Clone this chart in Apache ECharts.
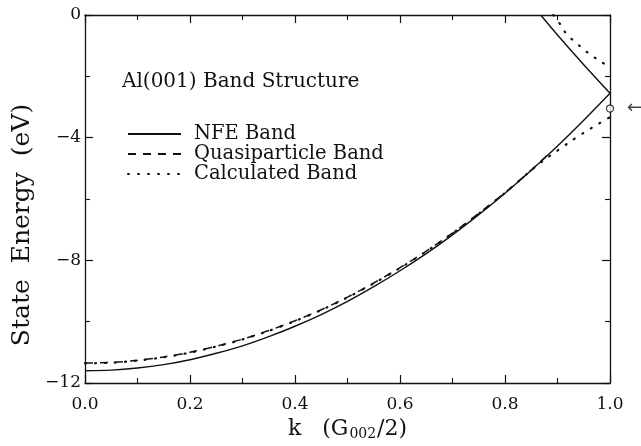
<!DOCTYPE html>
<html>
<head>
<meta charset="utf-8">
<script src="https://cdn.jsdelivr.net/npm/echarts@6/dist/echarts.min.js"></script>
<style>
  html, body { margin: 0; padding: 0; background: #fff; }
  #chart { width: 641px; height: 446px; }
</style>
</head>
<body>
<div id="chart"></div>
<script>
// k in units of G002/2, energies in eV
const kGrid = [0, 0.05, 0.1, 0.15, 0.2, 0.25, 0.3, 0.35, 0.4, 0.45, 0.5, 0.55, 0.6, 0.65, 0.7, 0.75, 0.8, 0.85, 0.9, 0.95, 1.0]
const nfeLower = [-11.60, -11.58, -11.51, -11.40, -11.24, -11.03, -10.79, -10.49, -10.15, -9.77, -9.34, -8.86, -8.34, -7.78, -7.17, -6.51, -5.81, -5.06, -4.27, -3.43, -2.55]

const nfeUpperK = [0.868, 0.9, 0.95, 1.0]
const nfeUpperE = [0, -0.65, -1.62, -2.55]

const qpK = [0, 0.05, 0.1, 0.15, 0.2, 0.25, 0.3, 0.35, 0.4, 0.45, 0.5, 0.55, 0.6, 0.65, 0.7, 0.75, 0.8, 0.85, 0.88]
const qpE = [-11.35, -11.33, -11.26, -11.15, -11.00, -10.80, -10.57, -10.29, -9.97, -9.61, -9.20, -8.74, -8.24, -7.70, -7.11, -6.47, -5.79, -5.06, -4.58]

const calcLowerK = [0, 0.05, 0.1, 0.15, 0.2, 0.25, 0.3, 0.35, 0.4, 0.45, 0.5, 0.55, 0.6, 0.65, 0.7, 0.75, 0.8, 0.85, 0.875, 0.9, 0.925, 0.95, 0.975, 1.0]
const calcLowerE = [-11.36, -11.34, -11.27, -11.16, -11.01, -10.81, -10.58, -10.30, -9.98, -9.62, -9.21, -8.75, -8.25, -7.71, -7.12, -6.48, -5.80, -5.06, -4.72, -4.42, -4.12, -3.84, -3.58, -3.33]

const calcUpperK = [0.892, 0.905, 0.914, 0.928, 0.943, 0.957, 0.971, 0.985, 1.0]
const calcUpperE = [0, -0.3, -0.55, -0.8, -1.02, -1.22, -1.39, -1.55, -1.68]

const markK = [1.0]
const markE = [-3.05]

const xTicks = [0, 1, 0.2]
const yTicks = [-12, 0, 4]
const legendNames = ["NFE Band", "Quasiparticle Band", "Calculated Band"]

const zip = (xs, ys) => xs.map((x, i) => [x, ys[i]])

const FONT = "DejaVu Serif"
const INK = "#111"

const axisBase = {
  axisLine: { onZero: false, lineStyle: { color: INK, width: 1.3 } },
  axisTick: { inside: true, length: 8, lineStyle: { color: INK, width: 1.2 } },
  minorTick: { show: true, splitNumber: 2, length: 5, lineStyle: { color: INK, width: 1.1 } },
  splitLine: { show: false },
  minorSplitLine: { show: false }
}

const dotted = [1, 9]
const dashed = [8, 7]

const myChart = echarts.init(document.getElementById("chart"), null, { renderer: "canvas" })

const option = {
  backgroundColor: "#fff",
  animation: false,
  title: {
    text: "Al(001) Band Structure",
    left: 117,
    top: 67,
    textStyle: { fontFamily: FONT, fontSize: 20, fontWeight: "normal", color: INK }
  },
  legend: {
    data: legendNames,
    orient: "vertical",
    left: 127,
    top: 124,
    padding: 0,
    itemWidth: 53,
    itemHeight: 14,
    itemGap: 0,
    itemStyle: { color: "rgba(0,0,0,0)", borderWidth: 0 },
    textStyle: { fontFamily: FONT, fontSize: 19.5, color: INK, lineHeight: 18, padding: [0, 0, 0, 8] }
  },
  grid: { left: 85, right: 31, top: 15, bottom: 62, containLabel: false },
  xAxis: [
    Object.assign({}, axisBase, {
      type: "value",
      min: xTicks[0],
      max: xTicks[1],
      interval: xTicks[2],
      name: "{k|k   (G}{sub|002}{k|/2)}",
      nameLocation: "middle",
      nameGap: 35,
      nameTextStyle: {
        rich: {
          k: { fontFamily: FONT, fontSize: 22, color: INK },
          sub: { fontFamily: FONT, fontSize: 14, color: INK, verticalAlign: "bottom", padding: [9, 1, 0, 1] }
        }
      },
      axisLabel: {
        margin: 13,
        fontFamily: FONT,
        fontSize: 17,
        color: INK,
        formatter: v => v.toFixed(1)
      }
    }),
    Object.assign({}, axisBase, {
      type: "value",
      position: "top",
      min: xTicks[0],
      max: xTicks[1],
      interval: xTicks[2],
      axisLabel: { show: false }
    })
  ],
  yAxis: [
    Object.assign({}, axisBase, {
      type: "value",
      min: yTicks[0],
      max: yTicks[1],
      interval: yTicks[2],
      axisLabel: {
        margin: 4,
        fontFamily: FONT,
        fontSize: 17,
        color: INK,
        formatter: v => String(v).replace("-", "\u2212")
      }
    }),
    Object.assign({}, axisBase, {
      type: "value",
      position: "right",
      min: yTicks[0],
      max: yTicks[1],
      interval: yTicks[2],
      axisLabel: { show: false }
    })
  ],
  graphic: [
    {
      type: "text",
      rotation: Math.PI / 2,
      x: 22,
      y: 225,
      style: {
        text: "State  Energy  (eV)",
        fontFamily: FONT,
        fontSize: 25,
        fill: INK,
        align: "center",
        verticalAlign: "middle"
      }
    }
  ],
  series: [
    {
      name: "NFE Band",
      type: "line",
      data: zip(kGrid, nfeLower),
      symbol: "none",
      smooth: 0.3,
      lineStyle: { color: INK, width: 1.4, type: "solid" },
      itemStyle: { color: INK }
    },
    {
      name: "Quasiparticle Band",
      type: "line",
      data: zip(qpK, qpE),
      symbol: "none",
      smooth: 0.3,
      lineStyle: { color: INK, width: 1.5, type: dashed },
      itemStyle: { color: INK }
    },
    {
      name: "Calculated Band",
      type: "line",
      data: zip(calcLowerK, calcLowerE),
      symbol: "none",
      smooth: 0.3,
      lineStyle: { color: INK, width: 2.2, type: dotted, cap: "round" },
      itemStyle: { color: INK }
    },
    {
      name: "NFE Band",
      type: "line",
      data: zip(nfeUpperK, nfeUpperE),
      symbol: "none",
      smooth: 0.3,
      lineStyle: { color: INK, width: 1.4, type: "solid" }
    },
    {
      name: "Calculated Band",
      type: "line",
      data: zip(calcUpperK, calcUpperE),
      symbol: "none",
      smooth: 0.3,
      lineStyle: { color: INK, width: 2.2, type: dotted, cap: "round" }
    },
    {
      name: "marker",
      type: "scatter",
      data: zip(markK, markE),
      symbol: "circle",
      symbolSize: 7,
      clip: false,
      z: 5,
      itemStyle: { color: "#fff", borderColor: INK, borderWidth: 1.2 },
      label: {
        show: true,
        position: "right",
        distance: 13,
        formatter: "\u2190",
        fontFamily: "DejaVu Sans",
        fontSize: 18,
        color: INK
      }
    }
  ]
}

myChart.setOption(option)
</script>
</body>
</html>
